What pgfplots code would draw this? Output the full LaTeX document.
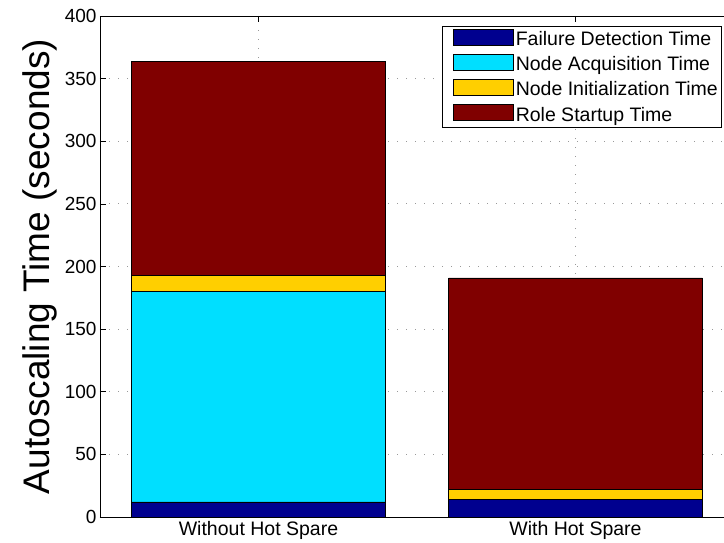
\documentclass[border=0pt]{standalone}
\usepackage{fontspec}
\setmainfont{Liberation Sans}
\usepackage{pgfplots}
\pgfplotsset{compat=1.18}
\definecolor{cfd}{rgb}{0,0,0.5625}
\definecolor{cna}{rgb}{0,0.875,1}
\definecolor{cni}{rgb}{1,0.8125,0}
\definecolor{crs}{rgb}{0.5,0,0}
\begin{document}
\begin{tikzpicture}
\begin{axis}[
  at={(100pt,26pt)}, anchor=south west,
  scale only axis, width=634pt, height=501pt,
  ybar stacked, bar width=0.8,
  xmin=0.5, xmax=2.5, ymin=0, ymax=400,
  xtick={1,2}, xticklabels={Without Hot Spare, With Hot Spare},
  ytick={0,50,...,400},
  tick align=inside, major tick length=6pt,
  tick style={black, line width=0.5pt},
  xmajorgrids, ymajorgrids,
  grid style={gray!80, dash pattern=on 1.2pt off 7.8pt, line width=0.8pt},
  /pgf/number format/assume math mode=true,
  tick label style={font=\fontsize{19}{22}\selectfont},
  xticklabel style={yshift=-1pt, font=\fontsize{19.5}{22}\selectfont},
  ylabel={Autoscaling Time (seconds)},
  ylabel style={font=\fontsize{37}{42}\selectfont, at={(axis description cs:-0.062,0.5)}, anchor=south},
  axis line style={black, line width=0.8pt},
  legend style={at={(0.981,0.980)}, anchor=north east, font=\fontsize{19.5}{22}\selectfont,
    draw=black, line width=0.5pt, inner xsep=2pt, inner ysep=3pt, row sep=5pt, cells={anchor=west},
    /tikz/every even column/.append style={column sep=1pt}},
  legend image code/.code={\path (-15pt,0pt); \draw[#1, line width=0.5pt] (-6pt,-6pt) rectangle (54pt,10pt);},
  every axis plot/.append style={draw=black, line width=0.5pt},
]
\addplot[fill=cfd] coordinates {(1,12) (2,14)};
\addplot[fill=cna] coordinates {(1,168) (2,0)};
\addplot[fill=cni] coordinates {(1,13) (2,8)};
\addplot[fill=crs] coordinates {(1,171) (2,169)};
\legend{Failure Detection Time, Node Acquisition Time, Node Initialization Time, Role Startup Time}
\end{axis}
\pgfresetboundingbox
\path (0,0) rectangle (724pt,543pt);
\end{tikzpicture}
\end{document}
